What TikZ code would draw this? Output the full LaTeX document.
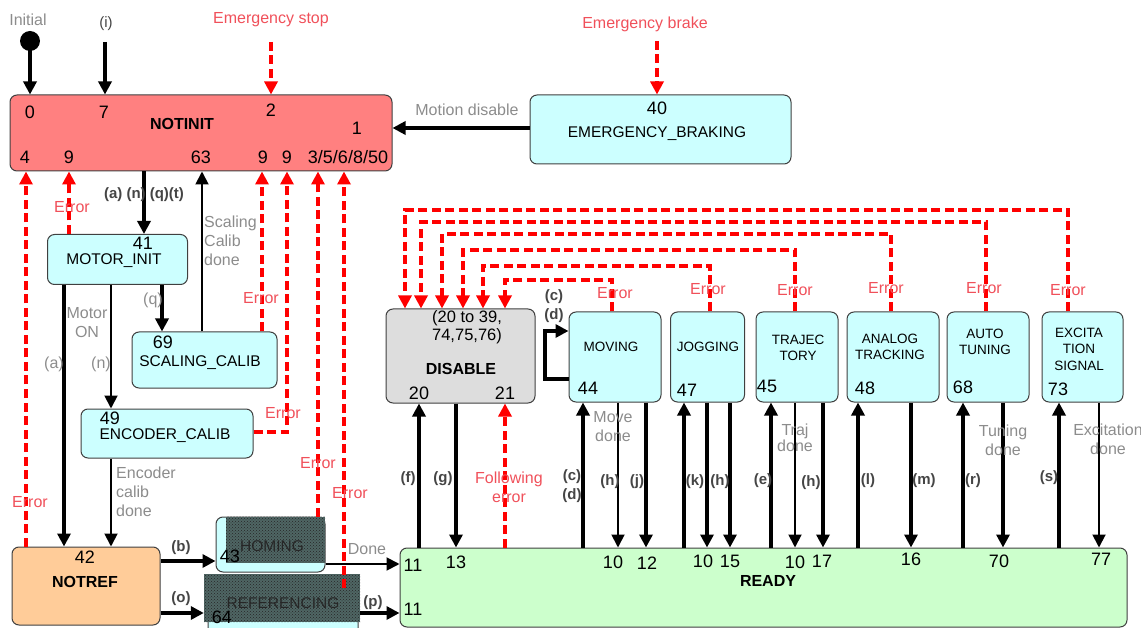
\documentclass[tikz,border=0pt]{standalone}
\usepackage{fontspec}
\setmainfont{Liberation Sans}
\usetikzlibrary{arrows.meta,patterns}
\definecolor{cNotinit}{HTML}{FF8080}
\definecolor{cCyan}{HTML}{CCFFFF}
\definecolor{cGrey}{HTML}{DDDDDD}
\definecolor{cOrange}{HTML}{FFCC99}
\definecolor{cGreen}{HTML}{CCFFCC}
\definecolor{cRed}{HTML}{FF0000}
\definecolor{cErrTxt}{HTML}{F0505A}
\definecolor{cGray}{HTML}{8C8C8C}
\definecolor{cCode}{HTML}{454545}
\definecolor{cOverlay}{HTML}{4F6664}
\tikzset{
 box/.style={draw=black!75, line width=1pt, rounded corners=7pt, inner sep=0pt},
 num/.style={inner sep=0pt, font=\fontsize{18}{20}\selectfont},
 tx/.style={inner sep=0pt, font=\fontsize{15.5}{17}\selectfont},
 sm/.style={inner sep=0pt, align=center, font=\fontsize{13.5}{16.5}\selectfont},
 ttl/.style={inner sep=0pt, font=\bfseries\fontsize{16}{18}\selectfont},
 gl/.style={inner sep=0pt, text=cGray, font=\fontsize{16}{19}\selectfont},
 cl/.style={inner sep=0pt, text=cCode, font=\bfseries\fontsize{15}{19}\selectfont, align=center},
 el/.style={inner sep=0pt, text=cErrTxt, font=\fontsize{16}{19}\selectfont, align=center},
 ar/.style={-{Triangle[length=13pt,width=13pt]}, line width=1.9pt},
 tk/.style={-{Triangle[length=13pt,width=13pt]}, line width=3.3pt},
 ds/.style={cRed, line width=3.2pt, dash pattern=on 9pt off 4.5pt},
 da/.style={ds, -{Triangle[length=13pt,width=13pt]}},
}
\begin{document}
\begin{tikzpicture}[x=1pt,y=-1pt]
\useasboundingbox (0,0) rectangle (1141,628);
% ---------- boxes ----------
\node[box, fill=cNotinit, minimum width=382pt, minimum height=76pt] (notinit) at (201,133) {};
\node[box, fill=cCyan, minimum width=261pt, minimum height=69pt] (ebrake) at (660.5,129.5) {};
\node[box, fill=cCyan, minimum width=140pt, minimum height=50pt] (motorinit) at (117.5,259.5) {};
\node[box, fill=cCyan, minimum width=145pt, minimum height=56pt] (scaling) at (204.5,360) {};
\node[box, fill=cCyan, minimum width=172pt, minimum height=49pt] (encoder) at (167,433.5) {};
\node[box, fill=cOrange, minimum width=148pt, minimum height=78pt] (notref) at (86,586) {};
\node[box, fill=cCyan, minimum width=109pt, minimum height=55pt] (homing) at (270.5,544.5) {};
\node[box, fill=cCyan, minimum width=150pt, minimum height=64pt] (refer) at (283,608) {};
\node[box, fill=cGreen, minimum width=727pt, minimum height=79pt] (ready) at (763.5,587.5) {};
\node[box, fill=cGrey, minimum width=149pt, minimum height=94pt] (disable) at (460.5,356) {};
\node[box, fill=cCyan, minimum width=92pt, minimum height=90pt] (moving) at (615,357) {};
\node[box, fill=cCyan, minimum width=74pt, minimum height=90pt] (jogging) at (707.5,357) {};
\node[box, fill=cCyan, minimum width=82pt, minimum height=90pt] (traj) at (797,357) {};
\node[box, fill=cCyan, minimum width=92pt, minimum height=90pt] (analog) at (893,357) {};
\node[box, fill=cCyan, minimum width=82pt, minimum height=90pt] (auto) at (988,357) {};
\node[box, fill=cCyan, minimum width=81pt, minimum height=90pt] (excit) at (1082.5,357) {};
% hatched overlays
\node[draw=none, fill=cOverlay, minimum width=99pt, minimum height=46pt, inner sep=0pt] (homov) at (275.5,539.5) {};
\node[pattern=crosshatch dots, pattern color=black!85, minimum width=99pt, minimum height=46pt, inner sep=0pt] (homovp) at (275.5,539.5) {};
\node[draw=none, fill=cOverlay, minimum width=156pt, minimum height=48pt, inner sep=0pt] (refov) at (282,598) {};
\node[pattern=crosshatch dots, pattern color=black!85, minimum width=156pt, minimum height=48pt, inner sep=0pt] (refovp) at (282,598) {};
% initial
\node[circle, fill=black, minimum size=20pt, inner sep=0pt] (init) at (30,41) {};
\coordinate (ci) at (105,42);
\coordinate (ces) at (271,42);
\coordinate (ceb) at (657,41);
\coordinate (rerr) at (344,588);
% ---------- connectors ----------
\draw[tk] (init.center) -- (init.center |- notinit.north);
\draw[tk] (ci) -- (ci |- notinit.north);
\draw[da] (ces) -- (ces |- notinit.north);
\draw[da] (ceb) -- (ceb |- ebrake.north);
\draw[tk] (ebrake.west |- 0,128) -- (notinit.east |- 0,128);
\draw[tk] (notinit.south -| 144,0) -- (motorinit.north -| 144,0);
\draw[tk] (motorinit.south -| 162,0) -- (scaling.north -| 162,0);
\draw[ar] (scaling.north -| 202,0) -- (notinit.south -| 202,0);
\draw[ar] (motorinit.south -| 111,0) -- (encoder.north -| 111,0);
\draw[tk] (motorinit.south -| 64,0) -- (notref.north -| 64,0);
\draw[ar] (encoder.south -| 111,0) -- (notref.north -| 111,0);
\draw[da] (notref.north -| 26,0) -- (notinit.south -| 26,0);
\draw[da] (motorinit.north -| 69,0) -- (notinit.south -| 69,0);
\draw[da] (scaling.north -| 262,0) -- (notinit.south -| 262,0);
\draw[da] (encoder.east |- 0,432) -- (287,432) -- (notinit.south -| 287,0);
\draw[da] (homing.north -| 318,0) -- (notinit.south -| 318,0);
\draw[da] (rerr) -- (notinit.south -| rerr);
\draw[tk] (notref.east |- 0,561) -- (homing.west |- 0,561);
\draw[ar] (homing.east |- 0,564) -- (ready.west |- 0,564);
\draw[tk] (notref.east |- 0,613) -- (refov.west |- 0,613);
\draw[tk] (refov.east |- 0,613) -- (ready.west |- 0,613);
\draw[tk] (ready.north -| 419,0) -- (disable.south -| 419,0);
\draw[tk] (disable.south -| 456,0) -- (ready.north -| 456,0);
\draw[da] (ready.north -| 505,0) -- (disable.south -| 505,0);
\draw[tk] (moving.west |- 0,379) -- (545,379) -- (545,331) -- (moving.west |- 0,331);
\draw[tk] (ready.north -| 583,0) -- (moving.south -| 583,0);
\draw[ar] (moving.south -| 618,0) -- (ready.north -| 618,0);
\draw[tk] (moving.south -| 646,0) -- (ready.north -| 646,0);
\draw[tk] (ready.north -| 684,0) -- (jogging.south -| 684,0);
\draw[tk] (jogging.south -| 707,0) -- (ready.north -| 707,0);
\draw[tk] (jogging.south -| 730,0) -- (ready.north -| 730,0);
\draw[tk] (ready.north -| 771,0) -- (traj.south -| 771,0);
\draw[ar] (traj.south -| 795,0) -- (ready.north -| 795,0);
\draw[tk] (traj.south -| 823,0) -- (ready.north -| 823,0);
\draw[tk] (ready.north -| 858,0) -- (analog.south -| 858,0);
\draw[tk] (analog.south -| 911,0) -- (ready.north -| 911,0);
\draw[tk] (ready.north -| 963,0) -- (auto.south -| 963,0);
\draw[tk] (auto.south -| 1003,0) -- (ready.north -| 1003,0);
\draw[tk] (ready.north -| 1059,0) -- (excit.south -| 1059,0);
\draw[ar] (excit.south -| 1099,0) -- (ready.north -| 1099,0);
\draw[da] (moving.north -| 612,0) -- (612,280) -| (disable.north -| 505,0);
\draw[da] (jogging.north -| 710,0) -- (710,266) -| (disable.north -| 483,0);
\draw[da] (traj.north -| 795,0) -- (795,250) -| (disable.north -| 463,0);
\draw[da] (analog.north -| 891,0) -- (891,234) -| (disable.north -| 442,0);
\draw[da] (auto.north -| 986,0) -- (986,222) -| (disable.north -| 421,0);
\draw[da] (excit.north -| 1068,0) -- (1068,210) -| (disable.north -| 405,0);
% ---------- texts ----------
\node[gl] (tInit) at (28,20) {Initial};
\node[inner sep=0pt, text=cCode, font=\fontsize{15}{17}\selectfont] (tI) at (106,24) {(i)};
\node[el] (tEstop) at (271,20) {Emergency stop};
\node[el] (tEbrake) at (645,24) {Emergency brake};
\node[gl] (tMdis) at (467,110) {Motion disable};
% NOTINIT
\node[num] (n0) at (30,112) {0};
\node[num] (n7) at (104,112) {7};
\node[ttl] (nNotinit) at (182,124) {NOTINIT};
\node[num] (n2) at (271,110) {2};
\node[num] (n1) at (357,128) {1};
\node[num] (n4) at (25,157) {4};
\node[num] (n9a) at (69,157) {9};
\node[num] (n63) at (201,157) {63};
\node[num] (n9b) at (263,157) {9};
\node[num] (n9c) at (287,157) {9};
\node[num] (n3568) at (348,157) {3/5/6/8/50};
% EMERGENCY_BRAKING
\node[num] (n40) at (657,108) {40};
\node[tx] (tEB) at (657,134) {EMERGENCY\_BRAKING};
% left column
\node[cl] (tAnqt) at (144,195) {(a) (n) (q)(t)};
\node[el] (tErr1) at (72,207) {Error};
\node[num] (n41) at (143,243) {41};
\node[tx] (tMI) at (114,261) {MOTOR\_INIT};
\node[gl, align=left, anchor=west] (tScd) at (204,241) {Scaling\\Calib\\done};
\node[gl] (tQ) at (153,300) {(q)};
\node[el] (tErr2) at (261,298) {Error};
\node[gl, align=center] (tMon) at (87,323) {Motor\\ON};
\node[gl] (tA) at (54,364) {(a)};
\node[gl] (tN) at (101,364) {(n)};
\node[num] (n69) at (163,342) {69};
\node[tx] (tSC) at (200,363) {SCALING\_CALIB};
\node[el] (tErr3) at (283,413) {Error};
\node[num] (n49) at (110,418) {49};
\node[tx] (tEC) at (165,436) {ENCODER\_CALIB};
\node[el] (tErr4) at (318,463) {Error};
\node[gl, align=left, anchor=west] (tEcd) at (116,492) {Encoder\\calib\\done};
\node[el] (tErr5) at (350,493) {Error};
\node[el] (tErr6) at (30,502) {Error};
% NOTREF
\node[num] (n42) at (85,557) {42};
\node[ttl] (tNR) at (85,582) {NOTREF};
\node[cl] (tB) at (181,548) {(b)};
\node[cl] (tO) at (181,599) {(o)};
\node[cl] (tP) at (373,603) {(p)};
\node[gl] (tDone) at (367,549) {Done};
\node[num] (n43) at (230,556) {43};
\node[tx, text=black!85] (tHom) at (272,546) {HOMING};
\node[num] (n64) at (222,617) {64};
\node[tx, text=black!85] (tRef) at (283,603) {REFERENCING};
% DISABLE
\node[inner sep=0pt, align=center, font=\fontsize{16.5}{18.5}\selectfont] (tDrange) at (467,327) {(20 to 39,\\74,75,76)};
\node[ttl] (tDis) at (461,369) {DISABLE};
\node[num] (n20) at (419,393) {20};
\node[num] (n21) at (505,393) {21};
\node[cl] (tF) at (408,479) {(f)};
\node[cl] (tG) at (443,479) {(g)};
\node[el] (tFerr) at (509,487) {Following\\error};
% MOVING
\node[cl] (tCd1) at (554,306) {(c)\\(d)};
\node[el] (tErr7) at (615,293) {Error};
\node[sm] (tMov) at (611,347) {MOVING};
\node[num] (n44) at (588,388) {44};
\node[gl, align=center] (tMd) at (613,427) {Move\\done};
\node[cl] (tCd2) at (572,486) {(c)\\(d)};
\node[cl] (tH1) at (610,482) {(h)};
\node[cl] (tJ) at (637,482) {(j)};
% JOGGING
\node[el] (tErr8) at (708,289) {Error};
\node[sm] (tJog) at (708,347) {JOGGING};
\node[num] (n47) at (687,390) {47};
\node[cl] (tK) at (695,482) {(k)};
\node[cl] (tH2) at (720,482) {(h)};
% TRAJECTORY
\node[el] (tErr9) at (795,290) {Error};
\node[sm] (tTraj) at (798,348) {TRAJEC\\TORY};
\node[num] (n45) at (767,386) {45};
\node[gl, align=center, font=\fontsize{16}{16}\selectfont] (tTd) at (795,438) {Traj\\done};
\node[cl] (tE) at (763,481) {(e)};
\node[cl] (tH3) at (811,483) {(h)};
% ANALOG
\node[el] (tErr10) at (886,288) {Error};
\node[sm, font=\fontsize{13.5}{15.5}\selectfont] (tAna) at (890,347) {ANALOG\\TRACKING};
\node[num] (n48) at (865,388) {48};
\node[cl] (tL) at (868,481) {(l)};
\node[cl] (tM) at (924,481) {(m)};
% AUTO TUNING
\node[el] (tErr11) at (984,288) {Error};
\node[sm, font=\fontsize{13.5}{16}\selectfont] (tAuto) at (985,342) {AUTO\\TUNING};
\node[num] (n68) at (963,387) {68};
\node[gl, align=center] (tTund) at (1003,440) {Tuning\\done};
\node[cl] (tR) at (973,481) {(r)};
% EXCITATION
\node[el] (tErr12) at (1068,290) {Error};
\node[sm] (tExc) at (1079,349) {EXCITA\\TION\\SIGNAL};
\node[num] (n73) at (1058,389) {73};
\node[gl, align=center] (tExd) at (1108,439) {Excitation\\done};
\node[cl] (tS) at (1049,478) {(s)};
% READY
\node[ttl] (tReady) at (768,581) {READY};
\node[num] (n11a) at (413,565) {11};
\node[num] (n11b) at (413,609) {11};
\node[num] (n13) at (456,562) {13};
\node[num] (n10a) at (613,562) {10};
\node[num] (n12) at (647,563) {12};
\node[num] (n10b) at (703,561) {10};
\node[num] (n15) at (730,561) {15};
\node[num] (n10c) at (795,562) {10};
\node[num] (n17) at (822,561) {17};
\node[num] (n16) at (911,559) {16};
\node[num] (n70) at (999,561) {70};
\node[num] (n77) at (1101,559) {77};
\end{tikzpicture}
\end{document}
